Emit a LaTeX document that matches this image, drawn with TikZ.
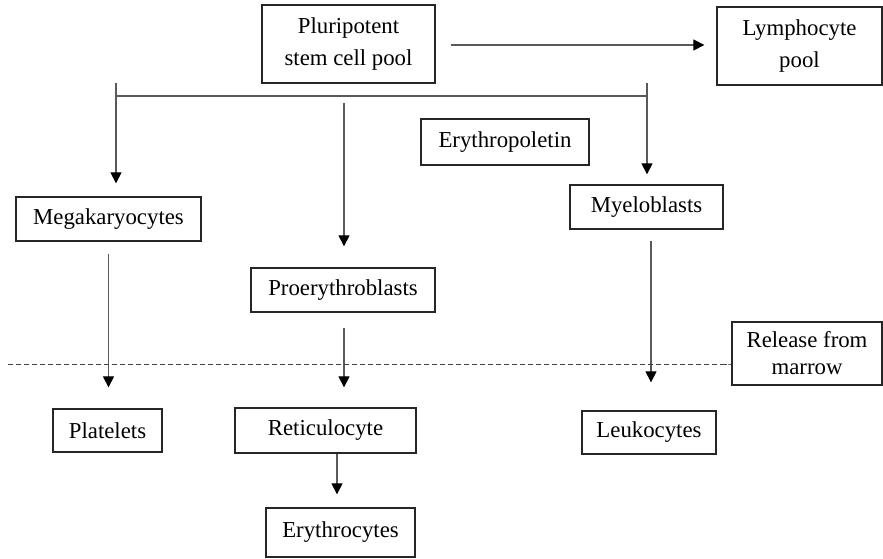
\documentclass[tikz,border=0pt]{standalone}
\usepackage{fontspec}
\setmainfont{Liberation Serif}
\usetikzlibrary{arrows.meta}
\begin{document}
\begin{tikzpicture}[x=1pt,y=-1pt,
  cell/.style={draw=black!85, line width=1.3pt, rectangle, inner sep=0pt,
    align=center, font=\fontsize{22.8}{27}\selectfont},
  tallcell/.style={cell, font=\fontsize{22.8}{32}\selectfont},
  link/.style={draw=black!65, line width=1.2pt,
    -{Triangle[width=11pt,length=11pt,color=black]}},
  branch/.style={draw=black!65, line width=1.2pt},
  boundary/.style={draw=black!75, line width=0.9pt, dash pattern=on 5pt off 3pt}]
\useasboundingbox (0,0) rectangle (883,559);

% cell pools and cell types
\node[tallcell, minimum width=173pt, minimum height=78pt] (pluri) at (348.5,44) {Pluripotent\\stem cell pool};
\node[tallcell, minimum width=165pt, minimum height=78pt] (lymph) at (799.5,46) {Lymphocyte\\pool};
\node[cell, minimum width=168pt, minimum height=46pt] (epo) at (505,142) {Erythropoletin};
\node[cell, minimum width=185pt, minimum height=44pt] (mega) at (108.5,219) {Megakaryocytes};
\node[cell, minimum width=184pt, minimum height=44pt] (proery) at (343,290) {Proerythroblasts};
\node[cell, minimum width=153pt, minimum height=44pt] (myelo) at (646.5,207) {Myeloblasts};
\node[cell, minimum width=150pt, minimum height=63pt] (release) at (807,353.5) {Release from\\marrow};
\node[cell, minimum width=109pt, minimum height=43pt] (plate) at (107.5,430.5) {Platelets};
\node[cell, minimum width=181pt, minimum height=45pt] (retic) at (325.5,430.5) {Reticulocyte};
\node[cell, minimum width=134pt, minimum height=43pt] (leuko) at (649,432.5) {Leukocytes};
\node[cell, minimum width=149pt, minimum height=49pt] (erythro) at (340.5,532.5) {Erythrocytes};

% branch points of the stem cell lineages
\coordinate (bl) at (116,96);
\coordinate (br) at (647,96);
\coordinate (tickL) at (116,83);
\coordinate (tickR) at (647,83);
\coordinate (midTop) at (344,103);

% stem cells to lymphocytes
\draw[link, shorten <=15pt, shorten >=12pt] (pluri.east |- 0,45) -- (lymph.west |- 0,45);

% lineage branches
\draw[branch] (bl) -- (br);
\draw[link, shorten >=13pt] (tickL) -- (tickL |- mega.north);
\draw[link, shorten >=10pt] (tickR) -- (tickR |- myelo.north);
\draw[link, shorten >=21pt] (midTop) -- (midTop |- proery.north);

% maturation steps
\draw[link, shorten <=12pt, shorten >=21pt] (mega.south) -- (mega.south |- plate.north);
\draw[link, shorten <=15pt, shorten >=20pt] ([xshift=1pt]proery.south) -- ([xshift=1pt]proery.south |- retic.north);
\draw[link, shorten <=11pt, shorten >=28pt] ([xshift=4.5pt]myelo.south) -- ([xshift=4.5pt]myelo.south |- leuko.north);
\draw[link, shorten >=13pt] ([xshift=11.5pt]retic.south) -- ([xshift=11.5pt]retic.south |- erythro.north);

% release from the marrow
\coordinate (relL) at (8,364);
\draw[boundary] (relL) -- (release.west |- relL) -- ++(-7,0);
\end{tikzpicture}
\end{document}
